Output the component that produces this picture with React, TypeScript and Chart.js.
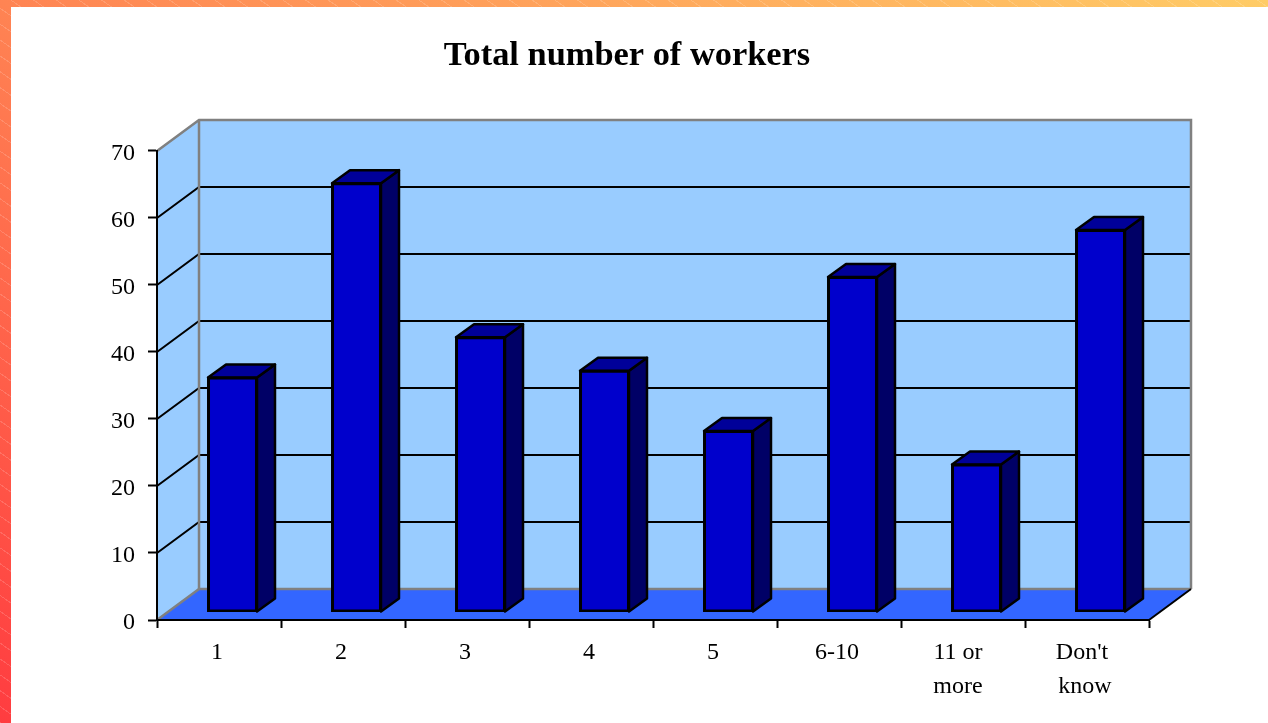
import React, { useEffect, useRef } from "react";
import { Chart, registerables } from "chart.js";

Chart.register(...registerables);

const categories: (string | string[])[] = ["1", "2", "3", "4", "5", "6-10", ["11 or ", "more "], ["Don't ", "know"]];
const workers = [35, 64, 41, 36, 27, 50, 22, 57];
const titleText = "Total number of workers";
const FONT = "'Liberation Serif', 'Times New Roman', serif";

// chart depth of the 3D box and of the columns, in pixels
const WALL_DX = 42;
const WALL_DY = -31;
const BAR_SHIFT_X = 13.5;
const BAR_SHIFT_Y = -8;
const BAR_DX = 18;
const BAR_DY = -13;

const poly = (ctx: CanvasRenderingContext2D, pts: number[][], fill: string | null, stroke: string | null, lw = 2) => {
  ctx.beginPath();
  pts.forEach((p, i) => (i ? ctx.lineTo(p[0], p[1]) : ctx.moveTo(p[0], p[1])));
  ctx.closePath();
  if (fill) {
    ctx.fillStyle = fill;
    ctx.fill();
  }
  if (stroke) {
    ctx.strokeStyle = stroke;
    ctx.lineWidth = lw;
    ctx.lineJoin = "round";
    ctx.stroke();
  }
};

const line = (ctx: CanvasRenderingContext2D, pts: number[][], stroke: string, lw = 2) => {
  ctx.beginPath();
  pts.forEach((p, i) => (i ? ctx.lineTo(p[0], p[1]) : ctx.moveTo(p[0], p[1])));
  ctx.strokeStyle = stroke;
  ctx.lineWidth = lw;
  ctx.stroke();
};

const box3d = {
  id: "box3d",
  beforeDraw(chart: any) {
    const { ctx, chartArea: a, scales } = chart;
    const y = scales.y;
    const L = a.left, R = a.right, T = y.getPixelForValue(70), B = y.getPixelForValue(0);
    ctx.save();
    // back wall and left wall
    poly(ctx, [[L + WALL_DX, T + WALL_DY], [R + WALL_DX, T + WALL_DY], [R + WALL_DX, B + WALL_DY], [L + WALL_DX, B + WALL_DY]], "#99CCFF", null);
    poly(ctx, [[L, T], [L + WALL_DX, T + WALL_DY], [L + WALL_DX, B + WALL_DY], [L, B]], "#99CCFF", null);
    // floor
    poly(ctx, [[L, B], [L + WALL_DX, B + WALL_DY], [R + WALL_DX, B + WALL_DY], [R, B]], "#3366FF", null);
    // gridlines run along the left wall and across the back wall
    for (const t of y.ticks) {
      if (t.value === 0 || t.value === 70) continue;
      const p = y.getPixelForValue(t.value);
      line(ctx, [[L, p], [L + WALL_DX, p + WALL_DY], [R + WALL_DX, p + WALL_DY]], "#000000");
    }
    // wall edges
    line(ctx, [[L, T], [L + WALL_DX, T + WALL_DY], [R + WALL_DX, T + WALL_DY], [R + WALL_DX, B + WALL_DY]], "#808080", 2.5);
    line(ctx, [[L + WALL_DX, T + WALL_DY], [L + WALL_DX, B + WALL_DY]], "#808080", 2.5);
    line(ctx, [[L, B], [L + WALL_DX, B + WALL_DY], [R + WALL_DX, B + WALL_DY]], "#808080", 2.5);
    line(ctx, [[R, B], [R + WALL_DX, B + WALL_DY]], "#000000");
    ctx.restore();
  },
  beforeDatasetsDraw(chart: any) {
    const { ctx } = chart;
    ctx.save();
    ctx.translate(BAR_SHIFT_X, BAR_SHIFT_Y);
    // the library's bar elements give the geometry of each column's side and top faces
    chart.getDatasetMeta(0).data.forEach((bar: any) => {
      const hw = bar.width / 2;
      const l = bar.x - hw, r = bar.x + hw, t = bar.y, b = bar.base;
      poly(ctx, [[r, t], [r + BAR_DX, t + BAR_DY], [r + BAR_DX, b + BAR_DY], [r, b]], "#000066", "#000000", 2.5);
      poly(ctx, [[l, t], [l + BAR_DX, t + BAR_DY], [r + BAR_DX, t + BAR_DY], [r, t]], "#000099", "#000000", 2.5);
    });
  },
  afterDatasetsDraw(chart: any) {
    chart.ctx.restore();
  },
};

export default function App() {
  const ref = useRef<HTMLCanvasElement>(null);

  useEffect(() => {
    const chart = new Chart(ref.current as HTMLCanvasElement, {
      type: "bar",
      plugins: [box3d],
      data: {
        labels: categories as any,
        datasets: [
          {
            label: titleText,
            data: workers,
            backgroundColor: "#0000CC",
            borderColor: "#000000",
            borderWidth: 3,
            borderSkipped: false,
            inflateAmount: 1,
            barPercentage: 0.395,
            categoryPercentage: 1,
          },
        ],
      },
      options: {
        responsive: false,
        animation: false,
        layout: { padding: { left: 105, right: 105, top: 0, bottom: 0 } },
        plugins: {
          legend: { display: false },
          tooltip: { enabled: false },
          title: {
            display: true,
            text: titleText,
            color: "#000000",
            font: { family: FONT, size: 34.4, weight: "bold", lineHeight: 1.2 },
            padding: { top: 35.4, bottom: 74.3 },
          },
        },
        scales: {
          x: {
            afterFit: (s: any) => {
              s.height = 103;
            },
            border: { color: "#000000", width: 2 },
            grid: { drawOnChartArea: false, drawTicks: true, tickLength: 8, tickColor: "#000000", tickWidth: 2 },
            ticks: {
              color: "#000000",
              font: { family: FONT, size: 24, lineHeight: 1.42 },
              padding: 8,
              labelOffset: -2,
              autoSkip: false,
              maxRotation: 0,
            },
          },
          y: {
            min: 0,
            max: 70,
            afterFit: (s: any) => {
              s.width = 52;
            },
            border: { color: "#000000", width: 2 },
            grid: { drawOnChartArea: false, drawTicks: true, tickLength: 9, tickColor: "#000000", tickWidth: 2 },
            ticks: {
              stepSize: 10,
              color: "#000000",
              font: { family: FONT, size: 24 },
              padding: 13,
              labelOffset: 3,
            },
          },
        },
      } as any,
    });
    return () => chart.destroy();
  }, []);

  return (
    <div
      style={{
        position: "fixed",
        left: 0,
        top: 0,
        width: 1268,
        height: 723,
        overflow: "hidden",
        background:
          "repeating-linear-gradient(35deg, rgba(255,255,255,0.16) 0 1px, rgba(255,255,255,0) 1px 13px), linear-gradient(to top right, #ff3c40, #ffcc66)",
      }}
    >
      <div style={{ position: "absolute", left: 11, top: 7, right: 0, bottom: 0, background: "#ffffff" }} />
      <canvas ref={ref} width={1254} height={723} style={{ position: "absolute", left: 0, top: 0, display: "block" }} />
    </div>
  );
}
